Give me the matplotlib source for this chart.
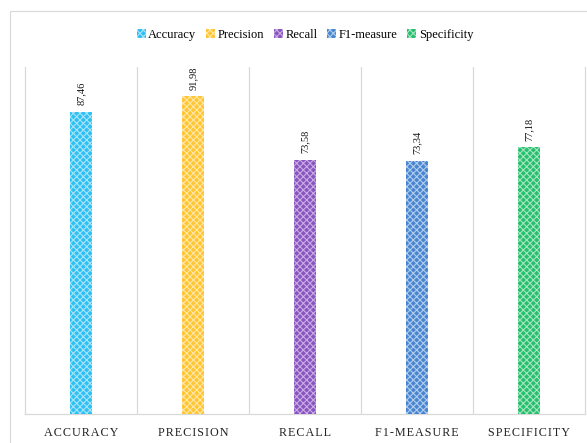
import numpy as np
import matplotlib.pyplot as plt
from matplotlib.patches import Rectangle

metrics = ["Accuracy", "Precision", "Recall", "F1-measure", "Specificity"]
tick_labels = ["ACCURACY", "PRECISION", "RECALL", "F1-MEASURE", "SPECIFICITY"]
scores = [87.46, 91.98, 73.58, 73.34, 77.18]
colors = ["#2EC0F2", "#FFC533", "#8A55C0", "#4A86CF", "#27BE6C"]
hatch_colors = ["#A6E4FA", "#FFE7A6", "#C9ADE3", "#B0CDEE", "#A3E6C2"]

plt.rcParams['font.family'] = ['Liberation Serif', 'DejaVu Serif']
plt.rcParams['hatch.linewidth'] = 0.8

fig = plt.figure(figsize=(5.87, 4.43), dpi=100)
ax = fig.add_axes([25 / 587, 29 / 443, 560 / 587, 347 / 443])

# outer chart frame
fig.patches.append(Rectangle((10 / 587, -0.1), 1.2, 432 / 443 + 0.1,
                             transform=fig.transFigure, fill=False,
                             edgecolor="#d9d9d9", linewidth=0.8))

x = np.arange(len(metrics))
for i in range(len(metrics)):
    ax.bar(x[i], scores[i], width=0.19, color=colors[i], edgecolor=hatch_colors[i],
           linewidth=0, hatch="xxxxx", label=metrics[i], zorder=3)
    ax.annotate(f"{scores[i]:.2f}".replace(".", ","), (x[i], scores[i]),
                xytext=(0, 4.5), textcoords="offset points", rotation=90,
                ha="center", va="bottom", fontsize=7.5, color="#111111")

ax.set_xlim(-0.5, len(metrics) - 0.5)
ax.set_ylim(0, 100.4)
ax.set_yticks([])
ax.set_xticks(x)
ax.set_xticklabels(["\u200a".join(t) for t in tick_labels], fontsize=8.7, color="#222222")
ax.tick_params(axis="x", length=0, pad=9)

for b in np.arange(0.5, len(metrics) - 1, 1.0):
    ax.axvline(b, color="#d9d9d9", linewidth=0.9, zorder=1)

for s in ["left", "right", "bottom"]:
    ax.spines[s].set_color("#d9d9d9")
    ax.spines[s].set_linewidth(0.9)
ax.spines["top"].set_visible(False)

ax.legend(loc="center", bbox_to_anchor=(0.5, 1.092), ncol=5, frameon=False,
          fontsize=9, handlelength=0.7, handleheight=0.7, handletextpad=0.2,
          columnspacing=0.8)

plt.savefig("out.png", dpi=100)
